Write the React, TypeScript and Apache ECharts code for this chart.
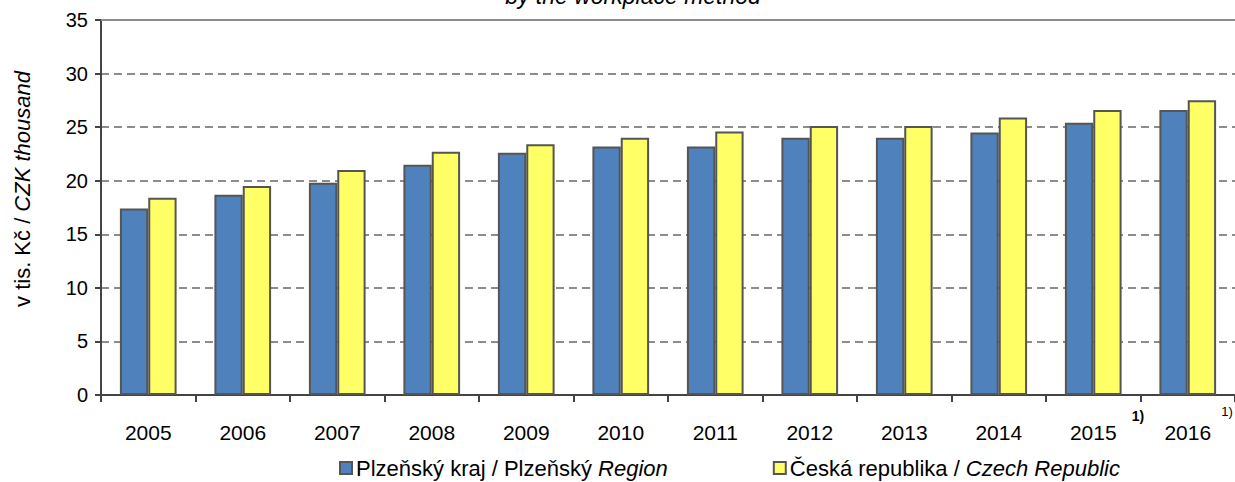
import React, { useEffect, useRef } from "react";
import * as echarts from "echarts";

const years = ["2005", "2006", "2007", "2008", "2009", "2010", "2011", "2012", "2013", "2014", "2015", "2016"];
const plzenskyKraj = [17.4, 18.7, 19.8, 21.5, 22.6, 23.2, 23.2, 24.0, 24.0, 24.5, 25.4, 26.6];
const ceskaRepublika = [18.4, 19.5, 21.0, 22.7, 23.4, 24.0, 24.6, 25.1, 25.1, 25.9, 26.6, 27.5];
const yMin = 0;
const yMax = 35;
const yStep = 5;

const FONT = "'Liberation Sans', Arial, sans-serif";

export default function App() {
  const ref = useRef<HTMLDivElement>(null);
  useEffect(() => {
    if (!ref.current) return;
    const chart = echarts.init(ref.current, undefined, { renderer: "svg" });
    const option: any = {
      animation: false,
      backgroundColor: "#ffffff",
      textStyle: { fontFamily: FONT },
      grid: { left: 101, top: 20, width: 1143, height: 375, containLabel: false },
      xAxis: [
        {
          type: "category",
          data: years,
          position: "bottom",
          axisLine: { show: true, lineStyle: { color: "#444444", width: 2 } },
          axisTick: { show: true, length: 7, lineStyle: { color: "#444444", width: 2 } },
          axisLabel: { margin: 27, fontSize: 21, color: "#000000", fontFamily: FONT },
          splitLine: { show: false },
        },
        {
          type: "category",
          data: years,
          position: "top",
          axisLine: { show: true, lineStyle: { color: "#8c8c8c", width: 2 } },
          axisTick: { show: false },
          axisLabel: { show: false },
          splitLine: { show: false },
        },
      ],
      yAxis: {
        type: "value",
        min: yMin,
        max: yMax,
        interval: yStep,
        axisLine: { show: true, lineStyle: { color: "#444444", width: 2 } },
        axisTick: { show: true, length: 6, lineStyle: { color: "#444444", width: 2 } },
        axisLabel: { margin: 13, fontSize: 20, color: "#000000", fontFamily: FONT },
        splitLine: { show: true, lineStyle: { type: [8, 5], color: "#8c8c8c", width: 2 } },
      },
      legend: {
        left: 339,
        top: 457,
        itemWidth: 12,
        itemHeight: 12,
        itemGap: 105,
        icon: "rect",
        padding: 0,
        textStyle: {
          fontSize: 22,
          color: "#000000",
          fontFamily: FONT,
          padding: [0, 0, 0, -1],
          rich: { i: { fontSize: 22, fontStyle: "italic", color: "#000000", fontFamily: FONT } },
        },
        formatter: (name: string) =>
          name === "Plzeňský kraj" ? "Plzeňský kraj / Plzeňský {i|Region}" : "Česká republika / {i|Czech Republic}",
        data: ["Plzeňský kraj", "Česká republika"],
      },
      series: [
        {
          name: "Plzeňský kraj",
          type: "bar",
          data: plzenskyKraj,
          barGap: "0%",
          barCategoryGap: "40%",
          itemStyle: { color: "#4f81bd", borderColor: "#555555", borderWidth: 2 },
        },
        {
          name: "Česká republika",
          type: "bar",
          data: ceskaRepublika,
          barGap: "0%",
          barCategoryGap: "40%",
          itemStyle: { color: "#ffff66", borderColor: "#555555", borderWidth: 2 },
        },
      ],
      graphic: [
        {
          type: "text",
          x: 633,
          y: 7,
          style: {
            text: "by the workplace method",
            fontSize: 23,
            fontStyle: "italic",
            fontFamily: FONT,
            fill: "#000000",
            align: "center",
            verticalAlign: "bottom",
          },
        },
        {
          type: "text",
          x: 22,
          y: 189,
          rotation: Math.PI / 2,
          style: {
            text: "v tis. Kč / {i|CZK thousand}",
            fontSize: 22,
            fontFamily: FONT,
            fill: "#000000",
            align: "center",
            verticalAlign: "middle",
            rich: { i: { fontSize: 22, fontStyle: "italic", fontFamily: FONT, fill: "#000000" } },
          },
        },
        {
          type: "text",
          x: 1138,
          y: 416,
          style: {
            text: "1)",
            fontSize: 14,
            fontWeight: "bold",
            fontFamily: FONT,
            fill: "#000000",
            align: "center",
            verticalAlign: "middle",
          },
        },
        {
          type: "text",
          x: 1227,
          y: 411,
          style: {
            text: "1)",
            fontSize: 13,
            fontFamily: FONT,
            fill: "#000000",
            align: "center",
            verticalAlign: "middle",
          },
        },
      ],
    };
    chart.setOption(option);
    return () => chart.dispose();
  }, []);
  return <div ref={ref} style={{ position: "absolute", left: 0, top: 0, width: 1235, height: 482 }} />;
}
